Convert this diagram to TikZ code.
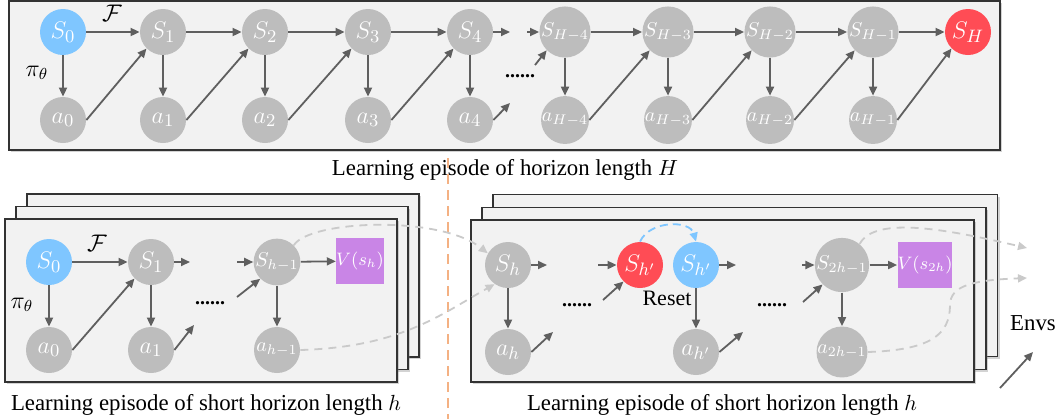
\documentclass[tikz,border=0pt]{standalone}
\usepackage{fontspec}
\setmainfont{Liberation Serif}
\usetikzlibrary{arrows.meta,shadows}

\definecolor{nodegray}{HTML}{BDBDBD}
\definecolor{sblue}{HTML}{7FC6FF}
\definecolor{sred}{HTML}{FF4C55}
\definecolor{vpurple}{HTML}{C985E6}
\definecolor{arrowgray}{HTML}{5F5F5F}
\definecolor{linkgray}{HTML}{CACACA}
\definecolor{panelgray}{HTML}{F2F2F2}
\definecolor{sorange}{HTML}{F4B183}

\begin{document}
\begin{tikzpicture}[x=0.5pt, y=-0.5pt,
        st/.style={circle, fill=nodegray, minimum size=23pt, inner sep=0pt,
            text=white, font=\fontsize{13}{14}\selectfont},
        stl/.style={st, font=\fontsize{10}{11}\selectfont},
        flow/.style={draw=arrowgray, line width=0.9pt,
            -{Triangle[length=4.5pt, width=4pt]}},
        link/.style={draw=linkgray, line width=0.9pt, dash pattern=on 4pt off 3pt,
            -{Triangle[length=4.5pt, width=4pt]}},
        panel/.style={fill=panelgray, draw=black!80, line width=0.7pt,
            drop shadow={shadow xshift=1.2pt, shadow yshift=-1.2pt, opacity=0.35}},
        vbox/.style={fill=vpurple, minimum width=23.5pt, minimum height=23pt,
            inner sep=0pt, text=white, font=\fontsize{9}{10}\selectfont},
        dots/.style={inner sep=0pt, font=\bfseries},
        mathlab/.style={font=\fontsize{12}{13}\selectfont},
        captext/.style={font=\fontsize{11.4}{13}\selectfont}]
    \useasboundingbox (0,0) rectangle (1058,419);

    % Full episode of horizon H
    \draw[panel] (9,1) rectangle (1000,150);
    \node[st, fill=sblue] (s0) at (63,32) {$S_0$};
    \node[st] (a0) at (63,120) {$a_0$};
    \foreach \x/\n/\l/\sty in {163/1/1/st, 265/2/2/st, 368/3/3/st, 470/4/4/st,
            565/5/{H-4}/stl, 668/6/{H-3}/stl, 770/7/{H-2}/stl, 873/8/{H-1}/stl} {
        \node[\sty] (s\n) at (\x,32) {$S_{\l}$};
        \node[\sty] (a\n) at (\x,120) {$a_{\l}$};
    }
    \node[st, fill=sred] (sH) at (968,32) {$S_H$};

    \foreach \i in {0,...,8} {
        \draw[flow] (s\i) -- (a\i);
    }
    \foreach \i/\j in {0/1, 1/2, 2/3, 3/4, 5/6, 6/7, 7/8, 8/H} {
        \draw[flow] (s\i) -- (s\j);
        \draw[flow] (a\i.east) -- (s\j.south west);
    }
    \coordinate (t1) at (510,32);
    \coordinate (t2) at (527,32);
    \coordinate (t3) at (510,103);
    \coordinate (t4) at (535,65);
    \draw[flow] (s4) -- (t1);
    \draw[flow] (t2) -- (s5);
    \draw[flow] (a4.east) -- (t3);
    \draw[flow] (t4) -- (s5.south west);
    \node[dots] (d1) at (520,76) {......};
    \node[mathlab] (F1) at (112,13) {$\mathcal{F}$};
    \node[mathlab] (pi1) at (37,73) {$\pi_\theta$};
    \node[captext] (cap1) at (505,170) {Learning episode of horizon length $H$};

    % Split line
    \draw[draw=sorange, line width=1pt, dash pattern=on 5pt off 3pt] (448,158) -- (448,419);

    % First short episode
    \foreach \d in {2,1,0} {
        \draw[panel] (5+11*\d,219-12.5*\d) rectangle (397+11*\d,382-12.5*\d);
    }
    \node[st, fill=sblue] (ls0) at (49,262) {$S_0$};
    \node[st] (la0) at (49,350) {$a_0$};
    \node[st] (ls1) at (151,262) {$S_1$};
    \node[st] (la1) at (151,350) {$a_1$};
    \node[stl] (lsh) at (277,262) {$S_{h-1}$};
    \node[stl] (lah) at (277,350) {$a_{h-1}$};
    \node[vbox] (lv) at (360,261) {$V(s_h)$};
    \draw[flow] (ls0) -- (ls1);
    \draw[flow] (ls0) -- (la0);
    \draw[flow] (la0.east) -- (ls1.south west);
    \draw[flow] (ls1) -- (la1);
    \draw[flow] (lsh) -- (lah);
    \draw[flow] (lsh) -- (lv);
    \coordinate (l1) at (190,262);
    \coordinate (l2) at (237,262);
    \coordinate (l3) at (194,325);
    \coordinate (l4) at (237,297);
    \draw[flow] (ls1) -- (l1);
    \draw[flow] (l2) -- (lsh);
    \draw[flow] (la1.east) -- (l3);
    \draw[flow] (l4) -- (lsh.south west);
    \node[dots] (d2) at (210,303) {......};
    \node[mathlab] (F2) at (97,243) {$\mathcal{F}$};
    \node[mathlab] (pi2) at (22,305) {$\pi_\theta$};
    \node[captext] (cap2) at (206,405) {Learning episode of short horizon length $h$};

    % Next short episode
    \foreach \d in {2,1,0} {
        \draw[panel] (471+11*\d,220-12.8*\d) rectangle (974+11.8*\d,382-12.8*\d);
    }
    \node[st] (rsh) at (508,265) {$S_h$};
    \node[st] (rah) at (508,352) {$a_h$};
    \node[st, fill=sred] (rsr) at (640,265) {$S_{h'}$};
    \node[st, fill=sblue] (rsb) at (696,265) {$S_{h'}$};
    \node[st] (rab) at (696,352) {$a_{h'}$};
    \node[stl] (rs2) at (842,265) {$S_{2h-1}$};
    \node[stl] (ra2) at (842,352) {$a_{2h-1}$};
    \node[vbox] (rv) at (925,265) {$V(s_{2h})$};
    \draw[flow] (rsh) -- (rah);
    \draw[flow] (rsb) -- (rab);
    \draw[flow] (rs2) -- (ra2);
    \draw[flow] (rs2) -- (rv);
    \coordinate (r1) at (547,265);
    \coordinate (r2) at (553,332);
    \coordinate (r3) at (598,265);
    \coordinate (r4) at (603,300);
    \coordinate (r5) at (736,265);
    \coordinate (r6) at (743,332);
    \coordinate (r7) at (802,265);
    \coordinate (r8) at (803,302);
    \draw[flow] (rsh) -- (r1);
    \draw[flow] (rah.east) -- (r2);
    \draw[flow] (r3) -- (rsr);
    \draw[flow] (r4) -- (rsr.south west);
    \draw[flow] (rsb) -- (r5);
    \draw[flow] (rab.east) -- (r6);
    \draw[flow] (r7) -- (rs2);
    \draw[flow] (r8) -- (rs2.south west);
    \node[dots] (d3) at (577,305) {......};
    \node[dots] (d4) at (772,305) {......};
    \node[font=\fontsize{11}{12}\selectfont] (reset) at (667,298) {Reset};
    \draw[draw=sblue, line width=0.9pt, dash pattern=on 4pt off 2.5pt,
        -{Triangle[length=4.5pt, width=4pt]}]
        (rsr.north) .. controls (650,220) and (690,220) .. (rsb.north);
    \node[captext] (cap3) at (722,405) {Learning episode of short horizon length $h$};

    % Hand-over between episodes
    \draw[link] (lsh.45) .. controls (310,220) and (440,215) .. (rsh.150);
    \draw[link] (lah.east) .. controls (400,347) and (440,315) .. (rsh.-125);
    \coordinate (e1) at (1027,248);
    \coordinate (e2) at (1027,278);
    \draw[link] (rs2.50) .. controls (875,215) and (950,230) .. (e1);
    \draw[link] (ra2.east) .. controls (930,350) and (950,335) .. (950,305)
        .. controls (950,285) and (975,280) .. (e2);

    % Environments
    \node[captext] (envs) at (1033,323) {Envs};
    \coordinate (e3) at (1000,388);
    \coordinate (e4) at (1033,352);
    \draw[flow] (e3) -- (e4);
\end{tikzpicture}
\end{document}
